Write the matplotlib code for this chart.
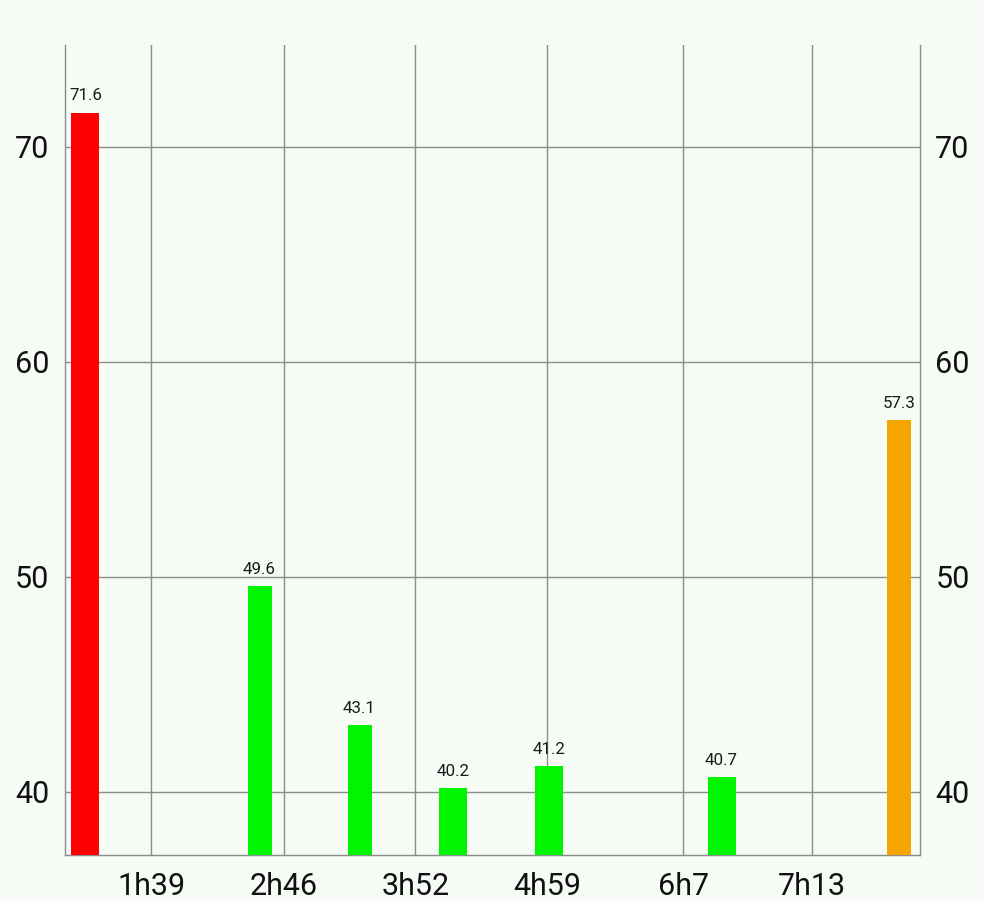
import matplotlib
matplotlib.use("Agg")
import matplotlib.pyplot as plt

plt.rcParams['font.family'] = ['Roboto', 'DejaVu Sans']

# data (x in minutes)
bar_x = [65.6, 153.7, 204.3, 251.8, 300.4, 387.5, 477.5]
bar_values = [71.6, 49.6, 43.1, 40.2, 41.2, 40.7, 57.3]
bar_colors = ['#FF0000', '#00F500', '#00F500', '#00F500', '#00F500', '#00F500', '#F5A500']
bar_widths = [14.2, 12.1, 12.1, 14.2, 14.2, 14.2, 12.1]
tick_pos = [99, 166, 232.6, 299.4, 368.2, 433]
tick_labels = ['1h39', '2h46', '3h52', '4h59', '6h7', '7h13']
y_ticks = [40, 50, 60, 70]

bg = '#F6FBF6'
grid_c = '#8C8C8C'

fig = plt.figure(figsize=(9.84, 9.0), dpi=100, facecolor=bg)
ax = fig.add_axes([64.5/984, 1-855/900, (920-64.5)/984, 810/900])
ax.set_facecolor(bg)

ax.bar(bar_x, bar_values, width=bar_widths, color=bar_colors, zorder=3)
for x, v in zip(bar_x, bar_values):
    ax.annotate(f"{v:.1f}", (x, v), xytext=(0, 6.5), textcoords='offset points',
                ha='center', va='bottom', fontsize=12.2, color='#1a1a1a', zorder=4)

ax.set_xlim(55.0, 487.9)
ax.set_ylim(37.07, 74.74)
ax.set_xticks(tick_pos)
ax.set_xticklabels(tick_labels)
ax.set_yticks(y_ticks)
ax.grid(True, color=grid_c, linewidth=1, zorder=0)
ax.set_axisbelow(True)

ax.tick_params(axis='both', length=0, labelsize=22, colors='#111111')
ax.tick_params(axis='y', labelright=True, pad=11)
ax.tick_params(axis='x', pad=12.5)

for s in ['left', 'bottom', 'right']:
    ax.spines[s].set_color(grid_c)
    ax.spines[s].set_linewidth(1)
ax.spines['top'].set_visible(False)

fig.savefig('out.png', dpi=100, facecolor=bg)
